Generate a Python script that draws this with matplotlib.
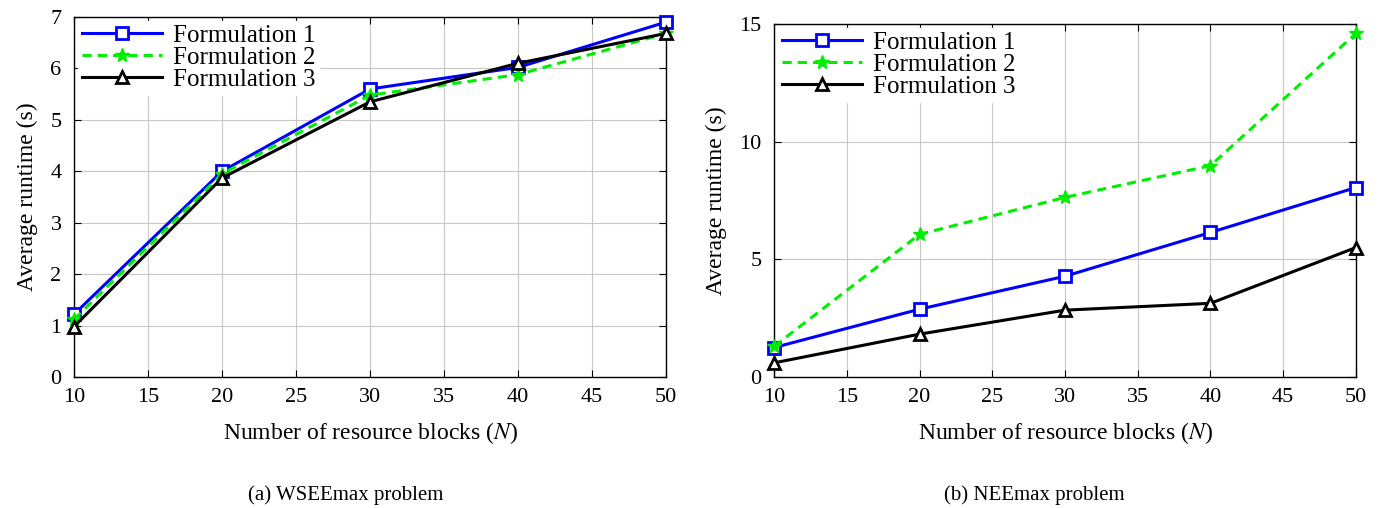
import matplotlib
matplotlib.use('Agg')
import matplotlib.pyplot as plt

plt.rcParams['font.family'] = ['Liberation Serif', 'DejaVu Serif']
plt.rcParams['mathtext.fontset'] = 'stix'

n_blocks = [10, 20, 30, 40, 50]

# WSEEmax runtimes (s)
wsee_f1 = [1.22, 4.00, 5.60, 6.02, 6.90]
wsee_f2 = [1.12, 3.95, 5.48, 5.88, 6.68]
wsee_f3 = [0.98, 3.87, 5.35, 6.10, 6.68]

# NEEmax runtimes (s)
nee_f1 = [1.25, 2.88, 4.28, 6.14, 8.05]
nee_f2 = [1.30, 6.06, 7.63, 8.98, 14.60]
nee_f3 = [0.60, 1.82, 2.84, 3.13, 5.50]

labels = ["Formulation 1", "Formulation 2", "Formulation 3"]


def draw_panel(ax, f1, f2, f3, ymax, yticks):
    ax.plot(n_blocks, f1, color='blue', lw=2.2, marker='s', ms=9, mfc='white',
            mec='blue', mew=2, label=labels[0], zorder=3, clip_on=False)
    ax.plot(n_blocks, f2, color='#00ee00', lw=2.2, ls=(0, (3, 2)), marker='*', ms=10,
            mfc='#00ee00', mec='#00ee00', label=labels[1], zorder=3, clip_on=False)
    ax.plot(n_blocks, f3, color='black', lw=2.2, marker='^', ms=8, mfc='white',
            mec='black', mew=2, label=labels[2], zorder=3, clip_on=False)
    ax.set_xlim(10, 50)
    ax.set_ylim(0, ymax)
    ax.set_xticks(range(10, 51, 5))
    ax.set_yticks(yticks)
    ax.grid(True, color='#c8c8c8', lw=0.8)
    ax.tick_params(direction='in', top=True, right=True, labelsize=16, length=5)
    ax.tick_params(axis='x', pad=8)
    ax.tick_params(axis='y', pad=9)
    for s in ax.spines.values():
        s.set_linewidth(1.0)
    ax.set_xlabel(r"Number of resource blocks ($N$)", fontsize=17, labelpad=9)
    ax.set_ylabel("Average runtime (s)", fontsize=17, labelpad=9)
    leg = ax.legend(loc='upper left', fontsize=18, handlelength=3.2, handletextpad=0.45,
                    borderaxespad=0.15, labelspacing=-0.02, borderpad=0.15,
                    fancybox=False, framealpha=1)
    leg.get_frame().set_edgecolor('white')


fig = plt.figure(figsize=(13.79, 5.08), dpi=100)
ax1 = fig.add_axes([0.0537, 0.2579, 0.4293, 0.7087])
ax2 = fig.add_axes([0.5613, 0.2579, 0.422, 0.695])

draw_panel(ax1, wsee_f1, wsee_f2, wsee_f3, 7, range(0, 8))
draw_panel(ax2, nee_f1, nee_f2, nee_f3, 15, [0, 5, 10, 15])

fig.text(0.2509, 0.0256, "(a) WSEEmax problem", ha='center', va='center', fontsize=15)
fig.text(0.7498, 0.0256, "(b) NEEmax problem", ha='center', va='center', fontsize=15)

plt.savefig("out.png", dpi=100)
